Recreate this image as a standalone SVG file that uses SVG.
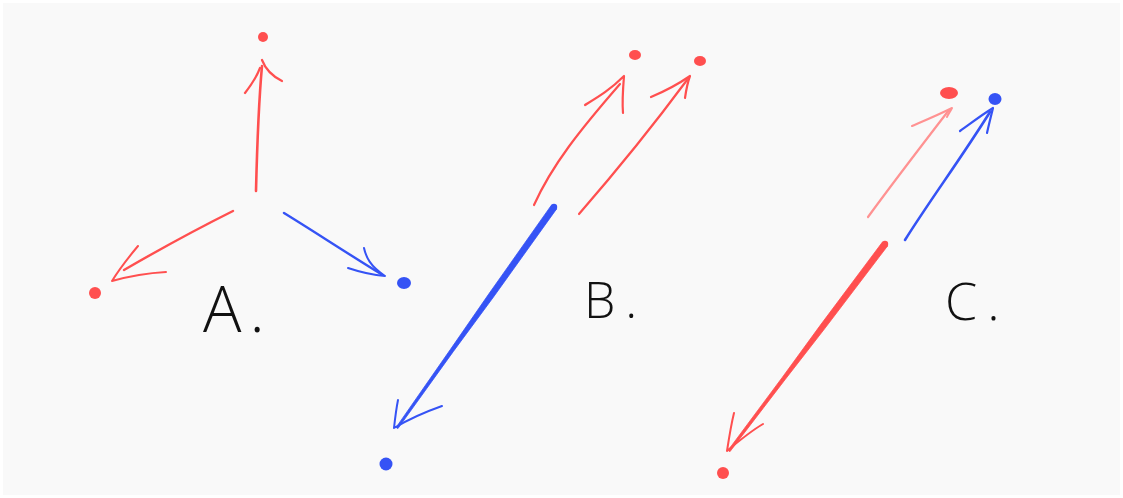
<svg xmlns="http://www.w3.org/2000/svg" width="1123" height="498" viewBox="0 0 1123 498">
<style>
.r{stroke:#ff4f4f;fill:none;stroke-linecap:round;stroke-linejoin:round}
.b{stroke:#3553f5;fill:none;stroke-linecap:round;stroke-linejoin:round}
.p{stroke:#ff9292;fill:none;stroke-linecap:round;stroke-linejoin:round}
.dr{fill:#ff4f4f}
.db{fill:#3553f5}
.lbl{font-family:"Open Sans","Liberation Sans",sans-serif;font-weight:300;fill:#111}
</style>
<rect width="1123" height="498" fill="#ffffff"/>
<rect x="3" y="3" width="1117" height="492" fill="#f9f9f9"/>
<g id="connectors">
  <!-- A -->
  <path class="r" stroke-width="2.6" d="M256 191 C257 150 258 110 262 66"/>
  <path class="r" stroke-width="2.2" d="M245 93 C252 84 257 76 260 68 M262 60 C265 68 272 76 282 81"/>
  <path class="r" stroke-width="2.4" d="M233 211 C195 230 155 252 124 270"/>
  <path class="r" stroke-width="2" d="M138 246 C128 258 120 268 112 281 C130 276 148 273 166 272"/>
  <path class="b" stroke-width="2.4" d="M284 213 C315 232 345 252 381 274"/>
  <path class="b" stroke-width="2" d="M364 248 C366 257 370 266 385 276 C372 275 360 272 348 268"/>
  <!-- B -->
  <path class="r" stroke-width="2.2" d="M534 205 C552 165 580 130 620 84"/>
  <path class="r" stroke-width="2.2" d="M585 105 C598 97 610 90 624 76 C623 88 622 101 623 113"/>
  <path class="r" stroke-width="2.2" d="M579 214 C612 176 650 130 687 80"/>
  <path class="r" stroke-width="2.2" d="M651 97 C663 92 674 87 690 76 C687 84 686 91 685 98"/>
  <path fill="#3553f5" stroke="#3553f5" stroke-width="0.8" stroke-linejoin="round" d="M556.6 208.9 L493.5 297 L453.4 351.4 L397.9 428.6 L396.1 427.4 L450.5 349.3 L488.9 293.8 L551.4 205.2 Z"/>
  <circle cx="554" cy="207" r="3.2" fill="#3553f5"/>
  <path class="b" stroke-width="2" d="M398 400 C396 410 395 419 394 428 C409 419 425 412 442 406"/>
  <!-- C -->
  <path class="p" stroke-width="2.2" d="M868 217 C895 180 922 145 949 110"/>
  <path class="p" stroke-width="2" d="M912 126 C926 120 938 115 952 108 C950 112 948 114 947 117"/>
  <path class="b" stroke-width="2.6" d="M905 240 C930 200 960 160 990 112"/>
  <path class="b" stroke-width="2.2" d="M960 131 C970 124 980 116 993 108 C991 116 989 124 987 133"/>
  <path fill="#ff4f4f" stroke="#ff4f4f" stroke-width="0.8" stroke-linejoin="round" d="M887.6 245.9 L824.8 328.5 L785 379.7 L729.9 451.7 L728.1 450.3 L782.2 377.5 L820.4 325.1 L882.4 242.1 Z"/>
  <circle cx="885" cy="244" r="3.2" fill="#ff4f4f"/>
  <path class="r" stroke-width="2" d="M734 413 C731 425 729 438 727 451 C740 440 751 431 763 424"/>
</g>
<g id="nodeA">
  <circle id="a-top" class="dr" cx="263" cy="37" r="5"/>
  <circle id="a-left" class="dr" cx="95" cy="293" r="6"/>
  <ellipse id="a-right" class="db" cx="404" cy="283" rx="7" ry="6"/>
  <text class="lbl" x="203" y="332" font-size="64" letter-spacing="8">A.</text>
</g>
<g id="nodeB">
  <ellipse id="b-top1" class="dr" cx="635" cy="55" rx="6" ry="5"/>
  <ellipse id="b-top2" class="dr" cx="700" cy="61" rx="6" ry="5"/>
  <circle id="b-bottom" class="db" cx="386" cy="464" r="6.5"/>
  <text class="lbl" x="584" y="318" font-size="50" letter-spacing="10">B.</text>
</g>
<g id="nodeC">
  <ellipse id="c-red" class="dr" cx="949" cy="93" rx="9" ry="6"/>
  <ellipse id="c-blue" class="db" cx="995" cy="99" rx="6.5" ry="6"/>
  <circle id="c-bottom" class="dr" cx="723" cy="473" r="6"/>
  <text class="lbl" x="945" y="320" font-size="52" letter-spacing="10">C.</text>
</g>
</svg>
